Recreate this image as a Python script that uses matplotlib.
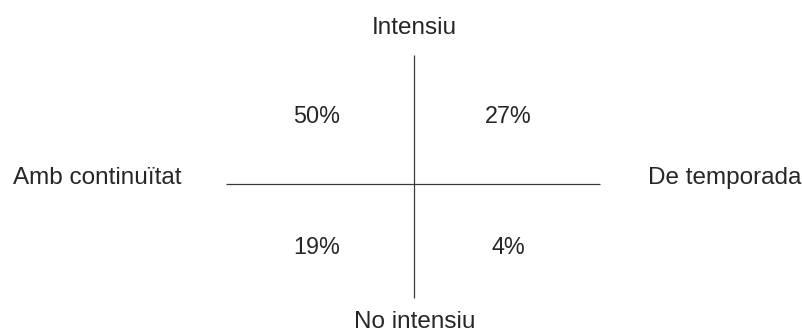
import matplotlib
matplotlib.use("Agg")
import matplotlib.pyplot as plt

# Data
quadrant_labels = ["50%", "27%", "19%", "4%"]
quadrant_x = [-1, 1, -1, 1]   # -1 = Amb continuïtat, +1 = De temporada
quadrant_y = [1, 1, -1, -1]   # +1 = Intensiu, -1 = No intensiu
axis_top = "Intensiu"
axis_bottom = "No intensiu"
axis_left = "Amb continuïtat"
axis_right = "De temporada"

plt.rcParams['font.family'] = ['Liberation Sans', 'DejaVu Sans']

W, H = 803, 334
fig = plt.figure(figsize=(W / 100, H / 100), dpi=100)
ax = fig.add_axes([0, 0, 1, 1])
# centre of the cross (pixel position), y axis pointing up
cx, cy = 414, 184
ax.set_xlim(-cx, W - cx)
ax.set_ylim(-(H - cy), cy)
ax.axis('off')

col = '#262626'
lcol = '#3a3a3a'
fs_lab = 17.5
fs_num = 16.8

# axes lines
ax.plot([226 - cx, 600 - cx], [0, 0], color=lcol, lw=0.9, solid_capstyle='butt')
ax.plot([0, 0], [cy - 298, cy - 55], color=lcol, lw=0.9, solid_capstyle='butt')

# axis labels (baseline positions)
ax.text(0, cy - 34, axis_top, ha='center', va='baseline', fontsize=fs_lab, color=col)
ax.text(1, cy - 328.5, axis_bottom, ha='center', va='baseline', fontsize=fs_lab, color=col)
ax.text(13 - cx, 0, axis_left, ha='left', va='baseline', fontsize=fs_lab, color=col)
ax.text(801 - cx, 0, axis_right, ha='right', va='baseline', fontsize=fs_lab, color=col)

# quadrant values
dx_left, dx_right = 97.5, 94
base_top, base_bot = cy - 123, cy - 254
for lab, qx, qy in zip(quadrant_labels, quadrant_x, quadrant_y):
    x = -dx_left if qx < 0 else dx_right
    y = base_top if qy > 0 else base_bot
    ax.text(x, y, lab, ha='center', va='baseline', fontsize=fs_num, color=col)

fig.savefig('out.png', dpi=100, facecolor='white')
